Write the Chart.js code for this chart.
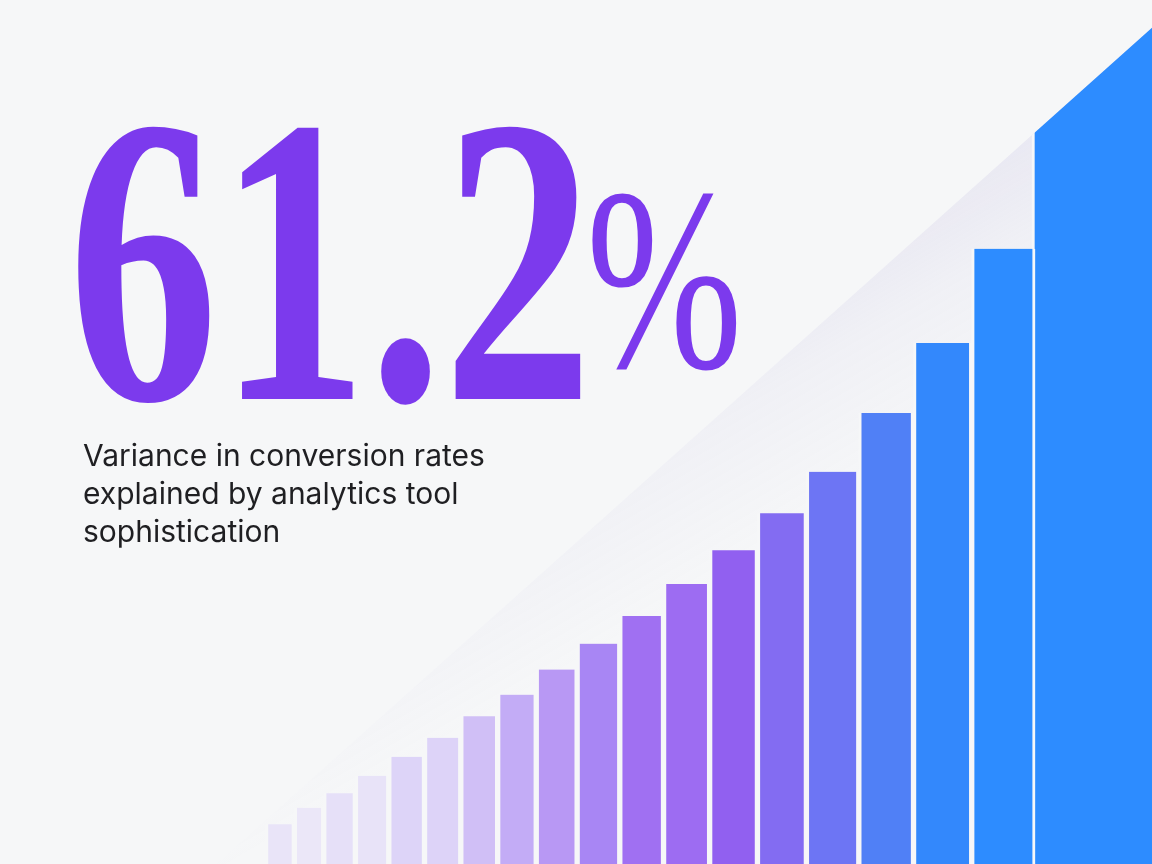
<!DOCTYPE html>
<html>
<head>
<meta charset="utf-8">
<title>61.2% variance explained</title>
<script src="https://cdn.jsdelivr.net/npm/chart.js@4/dist/chart.umd.min.js"></script>
<style>
  html, body { margin: 0; padding: 0; background: #f6f7f8; }
  #wrap { position: relative; width: 1152px; height: 864px; overflow: hidden; }
  #chart { position: absolute; left: 0; top: 0; }
  .big {
    position: absolute; left: 68px; top: 55px;
    font-family: "Liberation Serif", serif; font-weight: 700;
    font-size: 411px; line-height: 1; color: #7c3aed;
    transform: scaleX(0.73); transform-origin: 0 0; white-space: nowrap;
  }
  .pct {
    position: absolute; left: 586px; top: 148px;
    font-family: "Liberation Serif", serif; font-weight: 400;
    font-size: 261px; line-height: 1; color: #7c3aed;
    transform: scaleX(0.72); transform-origin: 0 0;
  }
  .sub {
    position: absolute; left: 83px; top: 436px;
    font-family: Inter, sans-serif; font-size: 30px; line-height: 38px;
    color: #1f1f22;
  }
</style>
</head>
<body>
<div id="wrap">
  <canvas id="chart"></canvas>
  <div class="big">61.2</div>
  <div class="pct">%</div>
  <div class="sub">Variance in conversion rates<br>explained by analytics tool<br>sophistication</div>
</div>
<script>
// analytics tool sophistication score (x) and conversion rate (y) per tier
const sophistication = [24.3, 26.8, 29.4, 32.3, 35.2, 38.5, 41.5, 44.9, 48.2, 52.0,
                        55.6, 59.6, 63.6, 67.9, 72.1, 77.0, 81.6, 87.1];
const conversion = [4.6, 6.5, 8.2, 10.2, 12.4, 14.6, 17.1, 19.6, 22.5, 25.5,
                    28.7, 32.4, 36.3, 40.6, 45.4, 52.2, 60.3, 71.2];

// top tier runs off the edge of the chart
const topTierX = [100];
const topTierY = [100];

// fitted trend the top tier is cut by
const trendX = [18.8, 100];
const trendY = [0, 96.8];

const barColors = ['#e9e4f8', '#ebe7f8', '#e6e0f8', '#e8e3f8', '#ddd4f8', '#ddd3f8',
                   '#d0bff6', '#c3acf6', '#b898f4', '#a886f4', '#a070f2', '#9d6cf2',
                   '#9160f0', '#836cf2', '#6d75f4', '#5080f6', '#3388fc', '#2d8cff'];
const bg = '#f6f7f8';

const toPoints = (xs, ys) => xs.map((x, i) => ({ x: x, y: ys[i] }));

// soft lavender shade falling away from the trend line
function shadeGradient(context) {
    const chart = context.chart;
    if (!chart.chartArea) return 'rgba(0,0,0,0)';
    const sx = chart.scales.x, sy = chart.scales.y;
    const x0 = sx.getPixelForValue(trendX[0]), y0 = sy.getPixelForValue(trendY[0]);
    const x1 = sx.getPixelForValue(trendX[1]), y1 = sy.getPixelForValue(trendY[1]);
    const len = Math.hypot(x1 - x0, y1 - y0);
    const dx = (x1 - x0) / len, dy = (y1 - y0) / len;
    // normal pointing below the line, tilted a bit down the line
    const gx = -dy * 0.98 - dx * 0.2;
    const gy = dx * 0.98 - dy * 0.2;
    const g = chart.ctx.createLinearGradient(x1, y1, x1 + gx * 260, y1 + gy * 260);
    g.addColorStop(0, 'rgba(150,140,210,0.16)');
    g.addColorStop(0.45, 'rgba(150,140,210,0.06)');
    g.addColorStop(1, 'rgba(150,140,210,0)');
    return g;
}

// cut the top tier along the trend line
const diagonalClip = {
    id: 'diagonalClip',
    beforeDatasetDraw(chart, args) {
        if (args.index !== 1) return;
        const pts = chart.getDatasetMeta(2).data;
        const { ctx, chartArea } = chart;
        ctx.save();
        ctx.beginPath();
        ctx.moveTo(pts[0].x, pts[0].y);
        ctx.lineTo(pts[1].x, pts[1].y);
        ctx.lineTo(chartArea.right, chartArea.bottom);
        ctx.lineTo(chartArea.left, chartArea.bottom);
        ctx.closePath();
        ctx.clip();
    },
    afterDatasetDraw(chart, args) {
        if (args.index === 1) chart.ctx.restore();
    }
};

new Chart(document.getElementById('chart').getContext('2d'), {
    type: 'bar',
    data: {
        datasets: [{
            label: 'Conversion rate',
            data: toPoints(sophistication, conversion),
            backgroundColor: barColors,
            borderColor: bg,
            borderWidth: { left: 3, right: 3, top: 0, bottom: 0 },
            barThickness: 'flex',
            categoryPercentage: 1,
            barPercentage: 1,
            order: 1
        }, {
            label: 'Top tier',
            data: toPoints(topTierX, topTierY),
            backgroundColor: '#2d8cff',
            borderColor: bg,
            borderWidth: { left: 3, right: 3, top: 0, bottom: 0 },
            barThickness: 240,
            grouped: false,
            order: 2
        }, {
            type: 'line',
            label: 'Trend',
            data: toPoints(trendX, trendY),
            borderWidth: 0,
            borderColor: 'rgba(0,0,0,0)',
            pointRadius: 0,
            fill: 'origin',
            backgroundColor: shadeGradient,
            order: 3
        }]
    },
    options: {
        responsive: true,
        maintainAspectRatio: false,
        animation: false,
        layout: { padding: 0 },
        plugins: {
            legend: { display: false },
            tooltip: { enabled: false },
            title: { display: false }
        },
        scales: {
            x: { type: 'linear', min: 0, max: 100, offset: false, display: false },
            y: { type: 'linear', min: 0, max: 100, display: false }
        }
    },
    plugins: [diagonalClip]
});
</script>
</body>
</html>
